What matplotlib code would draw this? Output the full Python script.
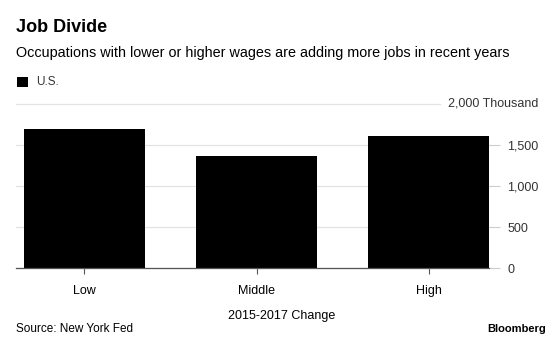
import matplotlib
matplotlib.use('Agg')
import matplotlib.pyplot as plt
from matplotlib.patches import Rectangle

plt.rcParams['font.family'] = ['Liberation Sans', 'DejaVu Sans']

# data (thousand jobs, 2015-2017 change)
categories = ['Low', 'Middle', 'High']
values = [1700, 1370, 1610]
yticks = [0, 500, 1000, 1500]
ytick_labels = ['0', '500', '1,000', '1,500']
ytop = 2000
ytop_label = '2,000 Thousand'

fig = plt.figure(figsize=(5.6, 3.47), dpi=100)
ax = fig.add_axes([16 / 560, 1 - 268.3 / 347, (489 - 16) / 560, (268.3 - 104) / 347])

x = range(len(categories))
ax.bar(x, values, width=0.7, color='black', zorder=3)

ax.set_xlim(-0.397, 2.35)
ax.set_ylim(0, ytop)
ax.set_xticks(list(x))
ax.set_xticklabels(categories, fontsize=9)
ax.set_yticks(yticks)
ax.set_yticklabels(ytick_labels, fontsize=9, color='#333333')
ax.yaxis.tick_right()
ax.tick_params(axis='y', length=8, color='#cccccc', width=0.8, pad=5)
ax.tick_params(axis='x', length=4, color='#555555', width=0.8, pad=8)

for sp in ['top', 'left', 'right']:
    ax.spines[sp].set_visible(False)
ax.spines['bottom'].set_color('#555555')
ax.spines['bottom'].set_linewidth(0.9)
ax.spines['bottom'].set_zorder(4)

ax.grid(axis='y', color='#e3e3e3', linewidth=0.9, zorder=0)
ax.set_axisbelow(True)
for gl in ax.get_ygridlines():
    gl.set_clip_on(False)

# top gridline stops short of its label
ax.axhline(ytop, xmin=0, xmax=(440 - 16) / (489 - 16), color='#e3e3e3', linewidth=0.9, zorder=0, clip_on=False)
ax.text(538 / 560, ytop, ytop_label, transform=ax.get_yaxis_transform().__class__(fig.transFigure, ax.transData),
        fontsize=9, color='#333333', ha='right', va='center')

# titles
fig.text(16 / 560, 1 - 27 / 347, 'Job Divide', fontsize=13, fontweight='bold', va='center', ha='left')
fig.text(16 / 560, 1 - 53 / 347, 'Occupations with lower or higher wages are adding more jobs in recent years',
         fontsize=10.4, va='center', ha='left')

# legend
fig.patches.append(Rectangle((17 / 560, 1 - 87 / 347), 11 / 560, 10 / 347, transform=fig.transFigure,
                             facecolor='black', edgecolor='none'))
fig.text(36 / 560, 1 - 82 / 347, 'U.S.', fontsize=8.5, va='center', ha='left', color='#333333')

fig.text(282 / 560, 1 - 316 / 347, '2015-2017 Change', fontsize=9, va='center', ha='center')
fig.text(16 / 560, 1 - 329 / 347, 'Source: New York Fed', fontsize=8.5, va='center', ha='left')
fig.text(546 / 560, 1 - 329 / 347, 'Bloomberg', fontsize=8, fontweight='bold', va='center', ha='right')

fig.savefig('out.png', dpi=100)
